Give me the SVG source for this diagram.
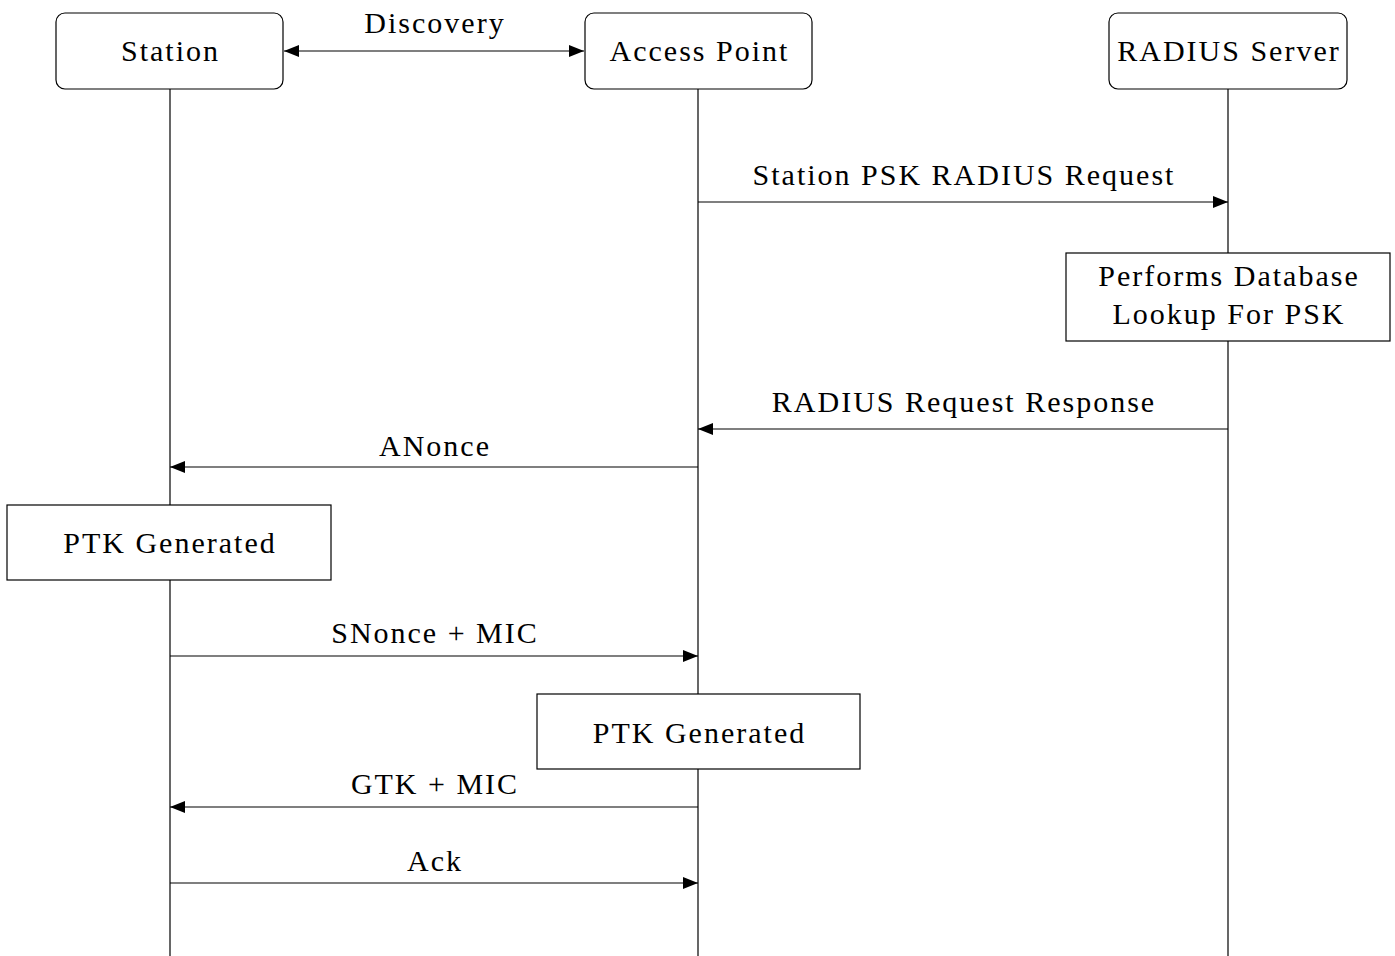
<svg xmlns="http://www.w3.org/2000/svg" width="1395" height="956" viewBox="0 0 1395 956">
  <style>
    text { font-family: "Liberation Serif", "DejaVu Serif", serif; font-size: 30px; letter-spacing: 2px; fill: #000; text-anchor: middle; }
    .actor { fill: #fff; stroke: #000; stroke-width: 1.2; }
    .note { fill: #fff; stroke: #000; stroke-width: 1.2; }
    .life { stroke: #000; stroke-width: 1.2; fill: none; }
    .msg { stroke: #000; stroke-width: 1.2; fill: none; marker-end: url(#arrow); }
  </style>
  <defs>
    <marker id="arrow" viewBox="0 0 15 12" refX="15" refY="6" markerWidth="15" markerHeight="12" markerUnits="userSpaceOnUse" orient="auto-start-reverse">
      <path d="M0,0 L15,6 L0,12 Z" fill="#000"/>
    </marker>
  </defs>
  <rect width="1395" height="956" fill="#fff"/>

  <!-- lifelines -->
  <g id="lifelines">
    <line class="life" x1="170" y1="89" x2="170" y2="956"/>
    <line class="life" x1="698" y1="89" x2="698" y2="956"/>
    <line class="life" x1="1228" y1="89" x2="1228" y2="956"/>
  </g>

  <!-- message connectors -->
  <g id="connectors">
    <line class="msg" x1="284" y1="51" x2="584" y2="51" marker-start="url(#arrow)"/>
    <text x="435" y="33">Discovery</text>
    <line class="msg" x1="698" y1="202" x2="1228" y2="202"/>
    <text x="964" y="185">Station PSK RADIUS Request</text>
    <line class="msg" x1="1228" y1="429" x2="698" y2="429"/>
    <text x="964" y="412">RADIUS Request Response</text>
    <line class="msg" x1="698" y1="467" x2="170" y2="467"/>
    <text x="435" y="456">ANonce</text>
    <line class="msg" x1="170" y1="656" x2="698" y2="656"/>
    <text x="435" y="643">SNonce + MIC</text>
    <line class="msg" x1="698" y1="807" x2="170" y2="807"/>
    <text x="435" y="794">GTK + MIC</text>
    <line class="msg" x1="170" y1="883" x2="698" y2="883"/>
    <text x="435" y="871">Ack</text>
  </g>

  <g id="station">
    <rect class="actor" x="56" y="13" width="227" height="76" rx="9"/>
    <text x="170.5" y="61">Station</text>
  </g>
  <g id="access-point">
    <rect class="actor" x="585" y="13" width="227" height="76" rx="9"/>
    <text x="699.5" y="61">Access Point</text>
  </g>
  <g id="radius-server">
    <rect class="actor" x="1109" y="13" width="238" height="76" rx="9"/>
    <text x="1229" y="61">RADIUS Server</text>
  </g>

  <g id="db-lookup">
    <rect class="note" x="1066" y="253" width="324" height="88"/>
    <text x="1229" y="286">Performs Database</text>
    <text x="1229" y="324">Lookup For PSK</text>
  </g>
  <g id="ptk-station">
    <rect class="note" x="7" y="505" width="324" height="75"/>
    <text x="170" y="553">PTK Generated</text>
  </g>
  <g id="ptk-ap">
    <rect class="note" x="537" y="694" width="323" height="75"/>
    <text x="699.5" y="743">PTK Generated</text>
  </g>
</svg>
